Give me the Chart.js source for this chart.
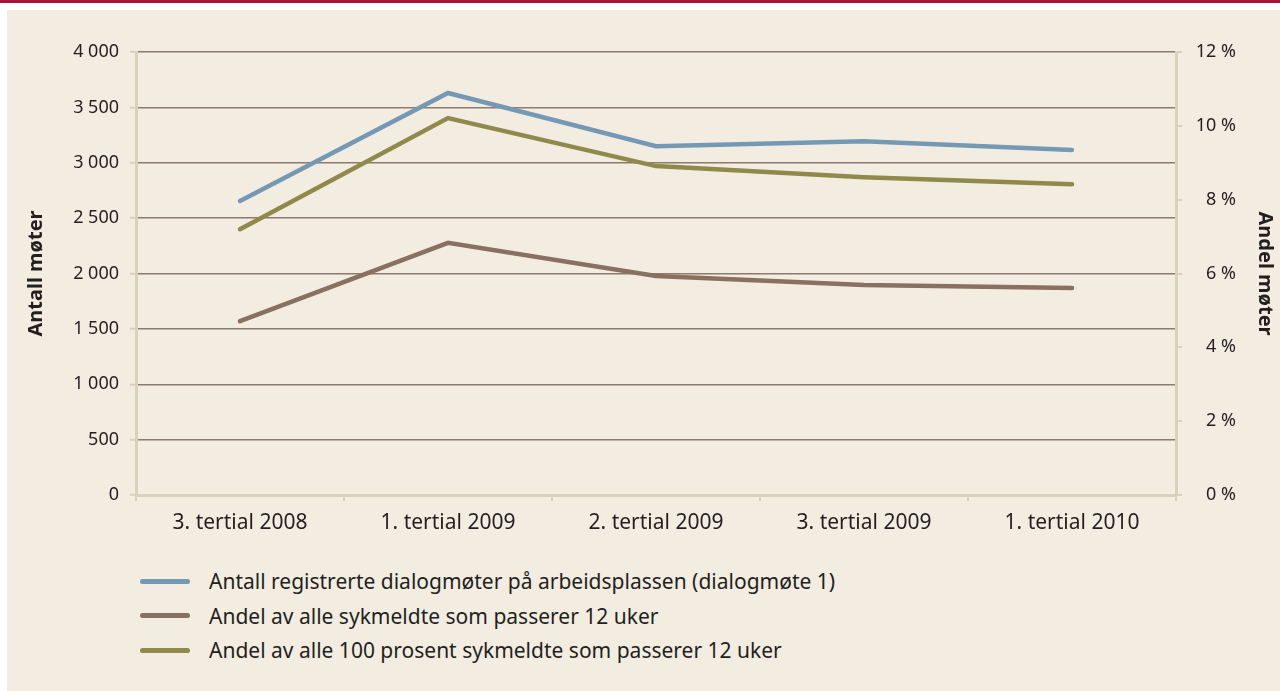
<!DOCTYPE html>
<html>
<head>
<meta charset="utf-8">
<script src="https://cdn.jsdelivr.net/npm/chart.js@4"></script>
<style>
  html, body { margin: 0; padding: 0; background: #fff; }
  body { width: 1280px; height: 691px; position: relative; overflow: hidden; font-family: "Noto Sans", sans-serif; }
  .topbar { position: absolute; left: 0; top: 0; width: 1280px; height: 3px; background: #a8123a; }
  .panel { position: absolute; left: 7px; top: 10px; width: 1273px; height: 681px; background: #f3ede1; }
  #wrap { position: absolute; left: 0; top: 0; width: 1280px; height: 560px; }
  #legend { position: absolute; left: 140px; top: 564px; }
  .item { display: flex; align-items: center; height: 34.5px; color: #231f20; font-size: 21px; }
  .swatch { width: 50px; height: 5px; border-radius: 3px; margin-right: 19px; }
</style>
</head>
<body>
<div class="topbar"></div>
<div class="panel"></div>
<div id="wrap"><canvas id="lineChart"></canvas></div>
<div id="legend"></div>
<script>
const categories = ['3. tertial 2008', '1. tertial 2009', '2. tertial 2009', '3. tertial 2009', '1. tertial 2010'];
const dialogmoter = [2655, 3630, 3150, 3195, 3115];
const andelAlle = [4.71, 6.83, 5.93, 5.69, 5.61];
const andel100 = [7.2, 10.21, 8.91, 8.61, 8.42];
const leftTicks = [0, 500, 1000, 1500, 2000, 2500, 3000, 3500, 4000];
const rightTicks = [0, 2, 4, 6, 8, 10, 12];

const seriesNames = [
  'Antall registrerte dialogmøter på arbeidsplassen (dialogmøte 1)',
  'Andel av alle sykmeldte som passerer 12 uker',
  'Andel av alle 100 prosent sykmeldte som passerer 12 uker'
];
const colors = ['#7599b5', '#8a7060', '#8f8a4c'];

const gridColor = '#8c7b6e';
const axisColor = '#d8d1bd';
const textColor = '#231f20';
const tickFont = { family: 'Noto Sans', size: 18 };
const titleFont = { family: 'Noto Sans', size: 20, weight: 'bold' };

const canvas = document.getElementById('lineChart');

new Chart(canvas, {
  type: 'line',
  data: {
    labels: categories,
    datasets: [
      { label: seriesNames[0], data: dialogmoter, yAxisID: 'y', borderColor: colors[0] },
      { label: seriesNames[1], data: andelAlle, yAxisID: 'y1', borderColor: colors[1] },
      { label: seriesNames[2], data: andel100, yAxisID: 'y1', borderColor: colors[2] }
    ]
  },
  options: {
    responsive: true,
    maintainAspectRatio: false,
    animation: false,
    layout: { padding: { left: 24, right: 44, top: 52, bottom: 0 } },
    elements: {
      line: { borderWidth: 4.5, tension: 0, borderCapStyle: 'round', borderJoinStyle: 'miter' },
      point: { radius: 0, hoverRadius: 0 }
    },
    plugins: { legend: { display: false }, tooltip: { enabled: false } },
    scales: {
      x: {
        offset: true,
        grid: { offset: true, drawOnChartArea: false, tickLength: 6, color: axisColor, lineWidth: 2 },
        border: { color: axisColor, width: 3 },
        ticks: { color: textColor, font: { family: 'Noto Sans', size: 21 }, padding: 9, maxRotation: 0 },
        afterFit: s => { s.height = 65; }
      },
      y: {
        position: 'left',
        min: 0, max: 4000,
        afterBuildTicks: s => { s.ticks = leftTicks.map(v => ({ value: v })); },
        grid: {
          color: c => (c.tick && c.tick.value === 0 ? 'rgba(0,0,0,0)' : gridColor),
          lineWidth: 1.5, tickLength: 6, tickColor: axisColor, tickWidth: 2
        },
        border: { color: axisColor, width: 3 },
        ticks: {
          color: textColor, font: tickFont, padding: 11,
          callback: v => v.toLocaleString('en-US').replace(',', ' ')
        },
        title: { display: true, text: 'Antall møter', color: textColor, font: titleFont, padding: 0 },
        afterFit: s => { s.width = 112; }
      },
      y1: {
        position: 'right',
        min: 0, max: 12,
        afterBuildTicks: s => { s.ticks = rightTicks.map(v => ({ value: v })); },
        grid: { drawOnChartArea: false, tickLength: 6, color: axisColor, lineWidth: 2 },
        border: { color: axisColor, width: 3 },
        ticks: { color: textColor, font: tickFont, padding: 11, crossAlign: 'far', callback: v => v + ' %' },
        title: { display: true, text: 'Andel møter', color: textColor, font: titleFont, padding: { top: -41, bottom: 0 } },
        afterFit: s => { s.width = 60; }
      }
    }
  }
});

const legend = document.getElementById('legend');
seriesNames.forEach((name, i) => {
  const row = document.createElement('div');
  row.className = 'item';
  const sw = document.createElement('span');
  sw.className = 'swatch';
  sw.style.background = colors[i];
  const txt = document.createElement('span');
  txt.textContent = name;
  row.appendChild(sw);
  row.appendChild(txt);
  legend.appendChild(row);
});
</script>
</body>
</html>
